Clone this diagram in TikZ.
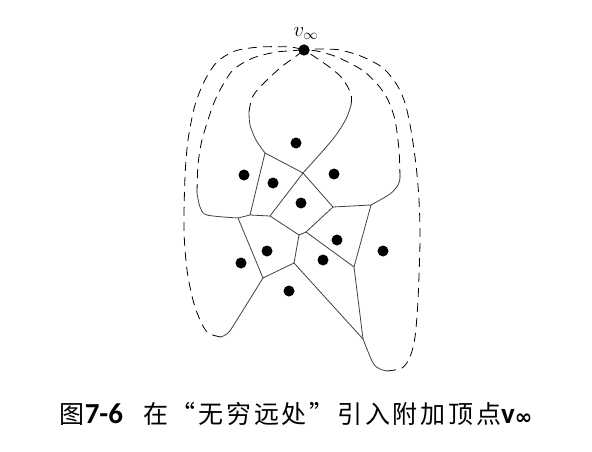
\documentclass[tikz,border=0pt]{standalone}
\usepackage{fontspec}
\setmainfont{Carlito}
\newfontfamily\cjk[LetterSpace=11]{Noto Sans CJK SC}
\newfontfamily\symfont{DejaVu Sans}
\usetikzlibrary{positioning}

\tikzset{
  site/.style={circle,fill=black,inner sep=0pt,minimum size=11pt},
  vedge/.style={black!75,line width=0.8pt},
  farline/.style={black,line width=0.8pt,dash pattern=on 9pt off 6pt},
}

\begin{document}
\begin{tikzpicture}[x=1pt,y=-1pt]
    \useasboundingbox (0,0) rectangle (592,452);

    % Titik sudut diagram Voronoi
    \coordinate (A) at (265,153);
    \coordinate (B) at (303,173);
    \coordinate (C) at (250,215);
    \coordinate (D) at (238,218);
    \coordinate (J) at (270,216);
    \coordinate (K) at (299,235);
    \coordinate (L) at (306,232);
    \coordinate (M) at (333,207);
    \coordinate (G) at (371,205);
    \coordinate (N) at (354,267);
    \coordinate (F) at (294,263);
    \coordinate (E) at (263,278);
    \coordinate (H) at (363,339);

    % Titik di tak hingga
    \node[site] (vinf) at (304,50) {};
    \node[above=1pt of vinf,xshift=2pt,font=\fontsize{21}{24}\selectfont] (vlabel) {$v_\infty$};

    % Sisi-sisi berhingga
    \draw[vedge] (A)--(B) (A)--(C) (C)--(D) (C)--(J) (J)--(B) (B)--(M);
    \draw[vedge] (J)--(K)--(L)--(M)--(G) (L)--(N)--(G) (N)--(H);
    \draw[vedge] (K)--(F)--(H) (F)--(E)--(D);

    % Sisi tak berhingga: bagian padat lalu garis putus-putus ke v
    \draw[vedge] plot[smooth] coordinates {(A) (256,140) (250,125) (249,112)};
    \draw[farline] plot[smooth] coordinates {(249,112) (252,98) (260,87) (280,68) (295,57) (vinf.center)};

    \draw[vedge] plot[smooth] coordinates {(B) (333,139) (346,119) (351,105)};
    \draw[farline] plot[smooth] coordinates {(351,105) (351,94) (342,78) (328,66) (315,57) (vinf.center)};

    \draw[vedge] plot[smooth] coordinates {(D) (207,215) (200,207) (197,193)};
    \draw[farline] plot[smooth] coordinates {(197,193) (198,165) (202,140) (212,108) (220,90) (233,70) (253,58) (277,52) (vinf.center)};

    \draw[vedge] plot[smooth] coordinates {(G) (390,194) (398,185) (400,178)};
    \draw[farline] plot[smooth] coordinates {(400,178) (399,150) (395,120) (388,100) (378,85) (362,70) (337,57) (317,51) (vinf.center)};

    \draw[vedge] plot[smooth] coordinates {(E) (235,323) (228,333) (221,337)};
    \draw[farline] plot[smooth] coordinates {(221,337) (208,333) (200,320) (193,300) (187,270) (184,230) (185,177) (188,140) (195,105) (205,80) (217,62) (235,51) (260,47) (290,47) (vinf.center)};

    \draw[vedge] plot[smooth] coordinates {(H) (373,363) (380,369) (387,371)};
    \draw[farline] plot[smooth] coordinates {(387,371) (402,368) (410,357) (415,337) (418,300) (420,240) (419,200) (416,165) (411,130) (405,103) (397,85) (383,68) (363,57) (340,50) (317,49) (vinf.center)};

    % Titik-titik situs
    \node[site] (s1) at (296,143) {};
    \node[site] (s2) at (244,175) {};
    \node[site] (s3) at (273,183) {};
    \node[site] (s4) at (334,174) {};
    \node[site] (s5) at (301,203) {};
    \node[site] (s6) at (337,240) {};
    \node[site] (s7) at (267,251) {};
    \node[site] (s8) at (241,263) {};
    \node[site] (s9) at (323,260) {};
    \node[site] (s10) at (383,251) {};
    \node[site] (s11) at (289,291) {};
    \node[site] at (vinf) {};

    % Keterangan gambar
    \node[inner sep=0pt] (judul) at (296,414) {\fontsize{29}{32}\selectfont{\cjk\fontsize{25}{30}\selectfont 图}{\bfseries 7-6}\hspace{20pt}{\cjk\fontsize{25}{30}\selectfont 在“无穷远处”引入附加顶点}{\bfseries v}\raisebox{-1pt}{\symfont\bfseries\fontsize{21}{24}\selectfont ∞}};

\end{tikzpicture}
\end{document}
